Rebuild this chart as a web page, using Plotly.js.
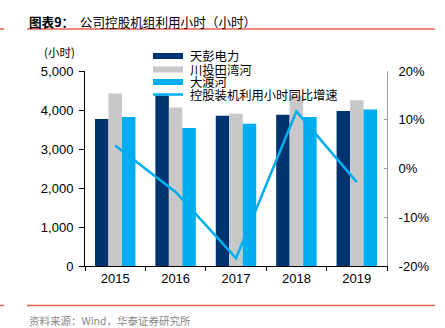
<!DOCTYPE html>
<html><head><meta charset="utf-8">
<script src="https://cdn.plot.ly/plotly-3.0.1.min.js"></script>
<style>html,body{margin:0;padding:0;background:#fff}#c{width:445px;height:328px}</style>
</head><body><div id="c"></div>
<script>
const years = ['2015','2016','2017','2018','2019'];
const seriesNames = ['天彭电力','川投田湾河','大渡河','控股装机利用小时同比增速'];
const tianpeng = [3770, 4600, 3855, 3880, 3975];
const chuantou = [4420, 4065, 3905, 4480, 4250];
const dadu = [3820, 3540, 3650, 3820, 4010];
const growth = [4.7, -4.8, -18.4, 11.7, -2.8];
const leftTicks = [0, 1000, 2000, 3000, 4000, 5000];
const rightTicks = [-20, -10, 0, 10, 20];
const rightTickText = ['-20%', '-10%', '0%', '10%', '20%'];
const colors = ['#003471', '#C8C8C8', '#00AEEF', '#00AEEF'];

const cjk = '"Noto Sans CJK SC", sans-serif';
const lat = '"Liberation Sans", Arial, sans-serif';

const traces = [
  {type:'bar', x:years, y:tianpeng, name:seriesNames[0], marker:{color:colors[0]}},
  {type:'bar', x:years, y:chuantou, name:seriesNames[1], marker:{color:colors[1]}},
  {type:'bar', x:years, y:dadu, name:seriesNames[2], marker:{color:colors[2]}},
  {type:'scatter', mode:'lines', x:years, y:growth, name:seriesNames[3], yaxis:'y2',
   line:{color:colors[3], width:2.5}}
];

// plot area: x 85..387, y 71..266
const px = v => (v - 85) / 302;
const py = v => (266 - v) / 195;

const red = '#E8604F';
const shapes = [
  {type:'line', xref:'paper', yref:'paper', x0:px(27), x1:px(435), y0:py(29), y1:py(29), line:{color:red, width:1.5}},
  {type:'line', xref:'paper', yref:'paper', x0:px(0), x1:px(4), y0:py(29), y1:py(29), line:{color:red, width:1.5}},
  {type:'line', xref:'paper', yref:'paper', x0:px(27), x1:px(435), y0:py(305.5), y1:py(305.5), line:{color:red, width:1.5}},
  {type:'line', xref:'paper', yref:'paper', x0:px(0), x1:px(4), y0:py(305.5), y1:py(305.5), line:{color:red, width:1.5}},
  // legend background
  {type:'rect', xref:'paper', yref:'paper', layer:'above', x0:px(150), x1:px(346), y0:py(48), y1:py(95.5), fillcolor:'#ffffff', line:{width:0}}
];
const rowY = [56, 69.5, 82, 94.5];
for (let i = 0; i < 3; i++) {
  shapes.push({type:'rect', xref:'paper', yref:'paper', layer:'above',
    x0:px(153), x1:px(183), y0:py(rowY[i]-3), y1:py(rowY[i]+3), fillcolor:colors[i], line:{width:0}});
}
shapes.push({type:'line', xref:'paper', yref:'paper', layer:'above',
  x0:px(153), x1:px(183), y0:py(rowY[3]), y1:py(rowY[3]), line:{color:colors[3], width:2.5}});

const annotations = seriesNames.map((n, i) => ({
  xref:'paper', yref:'paper', x:px(188), y:py(rowY[i]), xanchor:'left', yanchor:'middle',
  text:n, showarrow:false, font:{family:cjk, size:12.3, color:'#000'}
}));
annotations.push({xref:'paper', yref:'paper', x:px(59), y:py(52), xanchor:'center', yanchor:'middle',
  text:'(小时)', showarrow:false, font:{family:cjk, size:11.5, color:'#000'}});
annotations.push({xref:'paper', yref:'paper', x:px(27), y:py(21), xanchor:'left', yanchor:'middle',
  text:'<b>图表9：</b>  公司控股机组利用小时（小时）', showarrow:false, font:{family:cjk, size:12.6, color:'#000'}});
annotations.push({xref:'paper', yref:'paper', x:px(27), y:py(320), xanchor:'left', yanchor:'middle',
  text:'资料来源：Wind，华泰证券研究所', showarrow:false, font:{family:cjk, size:10.5, color:'#888'}});

const layout = {
  width:445, height:328,
  margin:{l:85, r:58, t:71, b:62, pad:0},
  paper_bgcolor:'#fff', plot_bgcolor:'#fff',
  showlegend:false,
  barmode:'group', bargap:0.33, bargroupgap:0,
  font:{family:lat, size:13, color:'#000'},
  xaxis:{type:'category', showline:true, linecolor:'#000', linewidth:1, ticks:'outside', tickson:'boundaries',
    ticklen:4, tickcolor:'#000', showgrid:false, tickfont:{family:lat, size:13, color:'#000'}},
  yaxis:{range:[0,5000], tickmode:'array', tickvals:leftTicks, tickformat:',', showline:true, linecolor:'#000', linewidth:1,
    ticks:'outside', ticklen:5, tickcolor:'#000', showgrid:false, zeroline:false, ticklabelstandoff:3,
    tickfont:{family:lat, size:13, color:'#000'}},
  yaxis2:{range:[-20,20], tickmode:'array', tickvals:rightTicks, ticktext:rightTickText, overlaying:'y', side:'right', anchor:'x',
    showline:true, linecolor:'#A0A0A0', linewidth:1, ticks:'inside', ticklen:3, tickcolor:'#A0A0A0',
    showgrid:false, zeroline:false, ticklabelstandoff:8, tickfont:{family:lat, size:13, color:'#000'}},
  shapes:shapes,
  annotations:annotations
};
Plotly.newPlot('c', traces, layout, {displayModeBar:false, staticPlot:true});
</script></body></html>
